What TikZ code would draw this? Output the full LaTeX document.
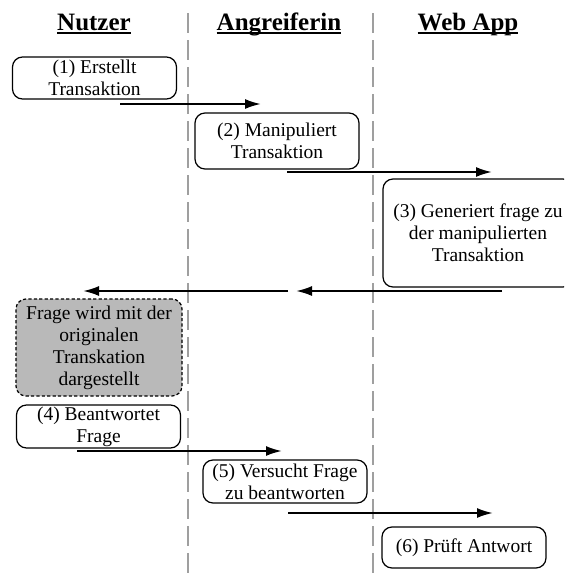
\documentclass[tikz,border=0pt]{standalone}
\usepackage{fontspec}
\setmainfont{Liberation Serif}
\usepackage{tikz}
\usetikzlibrary{arrows.meta}
\tikzset{>={Latex[length=8pt,width=5pt]}}
\newlength{\titlewd}
\newcommand{\lanetitle}[1]{\settowidth{\titlewd}{#1}\rlap{\rule[-2pt]{\titlewd}{1pt}}#1}
\tikzset{stepbox/.style = {draw, rounded corners=5pt, line width=0.6pt, align=center, inner sep=0pt, minimum width=82pt, font=\fontsize{9.75}{11}\selectfont}}
\tikzset{viewbox/.style = {stepbox, fill=gray!55, dash pattern=on 1.6pt off 1.1pt}}
\tikzset{lane/.style = {draw=gray!75, line width=1pt, dash pattern=on 10pt off 3.5pt}}
\tikzset{msg/.style = {->, line width=1pt}}
\tikzset{lanehead/.style = {anchor=base, inner sep=0pt, font=\fontsize{12.5}{14}\selectfont\bfseries}}

\begin{document}
\begin{tikzpicture}[x=0.5pt,y=-0.5pt]
    \clip (0,0) rectangle (564,579);

    \coordinate (l1t) at (188,13);
    \coordinate (l1b) at (188,579);
    \coordinate (l2t) at (373,13);
    \coordinate (l2b) at (373,579);
    \draw[lane] (l1t) -- (l1b);
    \draw[lane] (l2t) -- (l2b);

    \node[lanehead] (nutzer) at (94,30) {\lanetitle{Nutzer}};
    \node[lanehead] (angreiferin) at (279,30) {\lanetitle{Angreiferin}};
    \node[lanehead] (webapp) at (468,30) {\lanetitle{Web App}};

    \node[stepbox, minimum height=21pt] (s1) at (94.5,78) {(1) Erstellt\\Transaktion};
    \node[stepbox, minimum height=28pt] (s2) at (277,141) {(2) Manipuliert\\Transaktion};
    \node[stepbox, minimum width=95pt, minimum height=54pt] (s3) at (478,233) {(3) Generiert frage zu\\der manipulierten\\Transaktion};
    \node[viewbox, minimum width=83pt, minimum height=48.5pt] (view) at (99,347.5) {Frage wird mit der\\originalen\\Transkation\\dargestellt};
    \node[stepbox, minimum height=21.5pt] (s4) at (98.5,426.5) {(4) Beantwortet\\Frage};
    \node[stepbox, minimum height=21.5pt] (s5) at (285,481.5) {(5) Versucht Frage\\zu beantworten};
    \node[stepbox, minimum height=20.5pt] (s6) at (464,547.5) {(6) Prüft Antwort};

    \coordinate (m1a) at (120,104);
    \coordinate (m1b) at (261,104);
    \coordinate (m2a) at (287,172);
    \coordinate (m2b) at (492,172);
    \coordinate (m3a) at (502,291);
    \coordinate (m3b) at (296,291);
    \coordinate (m3c) at (288,291);
    \coordinate (m3d) at (83,291);
    \coordinate (m4a) at (77,451);
    \coordinate (m4b) at (282,451);
    \coordinate (m5a) at (288,513);
    \coordinate (m5b) at (493,513);

    \draw[msg] (m1a) -- (m1b);
    \draw[msg] (m2a) -- (m2b);
    \draw[msg] (m3a) -- (m3b);
    \draw[msg] (m3c) -- (m3d);
    \draw[msg] (m4a) -- (m4b);
    \draw[msg] (m5a) -- (m5b);
\end{tikzpicture}
\end{document}
